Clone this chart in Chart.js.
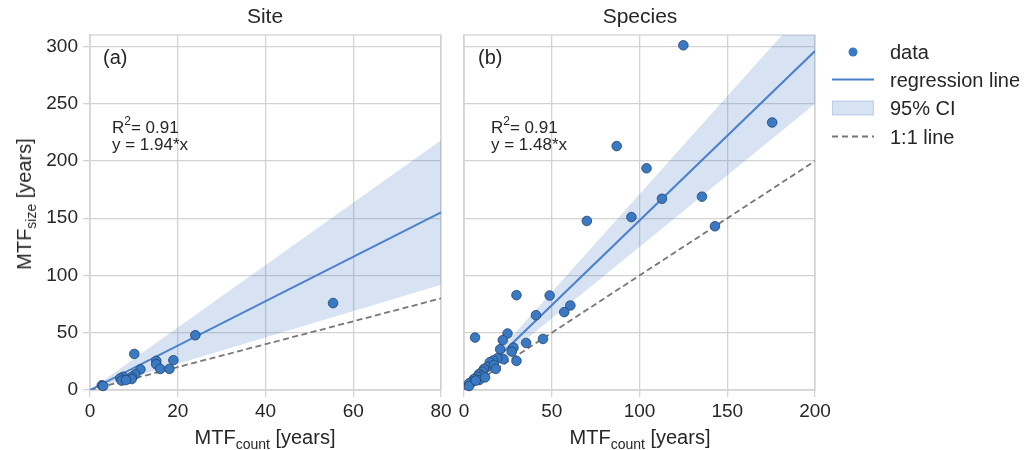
<!DOCTYPE html>
<html>
<head>
<meta charset="utf-8">
<script src="https://cdn.jsdelivr.net/npm/chart.js@4"></script>
<style>
  body { margin: 0; background: #fff; font-family: 'Liberation Sans', Arial, sans-serif; color: #262626; }
  #wrap { position: relative; width: 1034px; height: 450px; overflow: hidden; }
  canvas { position: absolute; top: 0; }
  .txt { position: absolute; white-space: nowrap; line-height: 1; }
  .sub { font-size: 14px; vertical-align: -5px; }
  .sup { font-size: 12px; vertical-align: 8px; }
  .leg { position: absolute; left: 828px; font-size: 20px; }
  .leg div { position: absolute; left: 62px; white-space: nowrap; line-height: 1; }
  .leg svg { position: absolute; left: 0; }
</style>
</head>
<body>
<div id="wrap">
  <canvas id="site" width="460" height="450" style="left:0"></canvas>
  <canvas id="species" width="390" height="450" style="left:450px"></canvas>

  <div class="txt" style="left:265px; top:5px; font-size:21px; transform:translateX(-50%)">Site</div>
  <div class="txt" style="left:640px; top:5px; font-size:21px; transform:translateX(-50%)">Species</div>

  <div class="txt" style="left:103px; top:47px; font-size:20px">(a)</div>
  <div class="txt" style="left:112px; top:115px; font-size:17px">R<span class="sup">2</span>= 0.91</div>
  <div class="txt" style="left:112px; top:136px; font-size:17px">y = 1.94*x</div>

  <div class="txt" style="left:478px; top:47px; font-size:20px">(b)</div>
  <div class="txt" style="left:491px; top:115px; font-size:17px">R<span class="sup">2</span>= 0.91</div>
  <div class="txt" style="left:491px; top:136px; font-size:17px">y = 1.48*x</div>

  <div class="txt" style="left:265px; top:427px; font-size:20px; transform:translateX(-50%)">MTF<span class="sub">count</span> [years]</div>
  <div class="txt" style="left:640px; top:427px; font-size:20px; transform:translateX(-50%)">MTF<span class="sub">count</span> [years]</div>
  <div class="txt" style="left:26px; top:204px; font-size:20px; transform:translate(-50%,-50%) rotate(-90deg)">MTF<span class="sub">size</span> [years]</div>

  <div class="leg" style="top:0">
    <svg width="46" height="150" style="top:0">
      <circle cx="25" cy="52" r="4.5" fill="#3a79c3"/>
      <line x1="4" y1="79.5" x2="46" y2="79.5" stroke="#4a80cc" stroke-width="2"/>
      <rect x="4.5" y="101" width="41" height="14" fill="rgba(74,128,200,0.22)" stroke="rgba(74,128,200,0.3)"/>
      <line x1="4" y1="136.5" x2="46" y2="136.5" stroke="#777" stroke-width="1.8" stroke-dasharray="6,4"/>
    </svg>
    <div style="top:42px">data</div>
    <div style="top:70px">regression line</div>
    <div style="top:98px">95% CI</div>
    <div style="top:127px">1:1 line</div>
  </div>
</div>

<script>
// Site panel (a)
const siteX = [24, 10.1, 15.1, 15.1, 19, 11.5, 16, 18.1, 10.3, 9.5, 9.5, 7.6, 6.9, 7.2, 8.2, 2.7, 3.0, 55.4];
const siteY = [47.8, 31.5, 25.4, 22.5, 26, 18, 18.4, 18.4, 13.7, 11.4, 9.6, 11.6, 10.2, 8.2, 8.7, 4.1, 3.5, 75.9];
const siteFitX = [0, 80];
const siteFitY = [0, 155.2];
const siteCiHigh = [0, 218];
const siteCiLow = [0, 92];
const siteOneX = [0, 80];
const siteOneY = [0, 80];
const siteTicksX = [0, 20, 40, 60, 80];

// Species panel (b)
const speciesX = [125, 175.6, 87, 104, 112.8, 135.6, 95.4, 70, 143,
  29.9, 48.8, 60.6, 57.1, 41, 6.3, 24.8, 22.1, 35.4, 45, 20.6, 28.2, 27.2, 29.9,
  22.5, 19, 16.6, 14.7, 13.5, 17.1, 18.1, 11.4, 10.5, 8.6, 10.1, 7.6, 5.7, 8.6,
  4.8, 2.9, 2.9, 12, 6.7];
const speciesY = [301, 233.6, 213, 193.6, 167, 168.8, 151, 147.6, 143,
  82.8, 82.5, 73.8, 68, 65.3, 45.8, 49.3, 43.5, 41.1, 44.6, 35.6, 37, 33.5, 25.4,
  26.8, 27.7, 25.7, 24.2, 20.4, 21.9, 18.4, 18.4, 16, 14, 12.2, 11.6, 9.6, 8.7,
  7.3, 5.8, 3.5, 11, 8.2];
const speciesFitX = [0, 200];
const speciesFitY = [0, 296];
const speciesCiHigh = [0, 342];
const speciesCiLow = [0, 250];
const speciesOneX = [0, 200];
const speciesOneY = [0, 200];
const speciesTicksX = [0, 50, 100, 150, 200];

const yTicks = [0, 50, 100, 150, 200, 250, 300];
const yMax = 310;

const gridColor = '#d3d3d3';
const pointFill = '#3a79c3';
const pointEdge = '#23426a';
const lineBlue = '#4a80cc';
const ciFill = 'rgba(74,128,200,0.22)';

const pts = (xs, ys) => xs.map((x, i) => ({ x: x, y: ys[i] }));

// frame around the plot area (matplotlib spines)
const framePlugin = {
  id: 'frame',
  beforeDatasetsDraw(chart) {
    const a = chart.chartArea;
    const ctx = chart.ctx;
    ctx.save();
    ctx.strokeStyle = gridColor;
    ctx.lineWidth = 1.3;
    ctx.strokeRect(a.left, a.top, a.right - a.left, a.bottom - a.top);
    ctx.restore();
  }
};

function makePanel(el, d, showY, pad) {
  return new Chart(el, {
    type: 'scatter',
    data: {
      datasets: [
        {
          label: 'data',
          data: pts(d.x, d.y),
          backgroundColor: pointFill,
          borderColor: pointEdge,
          borderWidth: 0.8,
          pointRadius: 4.8,
          clip: 6
        },
        {
          label: 'regression line',
          type: 'line',
          data: pts(d.fitX, d.fitY),
          borderColor: lineBlue,
          borderWidth: 2,
          pointRadius: 0
        },
        {
          label: '1:1 line',
          type: 'line',
          data: pts(d.oneX, d.oneY),
          borderColor: '#777777',
          borderWidth: 1.8,
          borderDash: [6, 3.5],
          pointRadius: 0
        },
        {
          label: 'ci high',
          type: 'line',
          data: pts(d.fitX, d.ciHigh),
          borderWidth: 0,
          pointRadius: 0,
          backgroundColor: ciFill,
          fill: '+1'
        },
        {
          label: '95% CI',
          type: 'line',
          data: pts(d.fitX, d.ciLow),
          borderWidth: 0,
          pointRadius: 0,
          fill: false
        }
      ]
    },
    options: {
      responsive: false,
      animation: false,
      events: [],
      layout: { padding: pad },
      plugins: {
        legend: { display: false },
        tooltip: { enabled: false }
      },
      scales: {
        x: {
          type: 'linear',
          min: 0,
          max: d.ticksX[d.ticksX.length - 1],
          afterBuildTicks: s => { s.ticks = d.ticksX.map(v => ({ value: v })); },
          afterFit: s => { s.height = 60; },
          grid: { color: gridColor, lineWidth: 1.3, tickLength: 7 },
          border: { color: gridColor, width: 1.3 },
          ticks: { color: '#262626', padding: 3, font: { size: 19, family: "'Liberation Sans', Arial, sans-serif" } }
        },
        y: {
          min: 0,
          max: yMax,
          afterBuildTicks: s => { s.ticks = yTicks.map(v => ({ value: v })); },
          afterFit: s => { s.width = showY ? 90 : 0; },
          grid: { color: gridColor, lineWidth: 1.3, tickLength: 7, drawTicks: showY },
          border: { color: gridColor, width: 1.3 },
          ticks: {
            display: showY,
            color: '#262626',
            padding: 5,
            font: { size: 19, family: "'Liberation Sans', Arial, sans-serif" }
          }
        }
      }
    },
    plugins: [framePlugin]
  });
}

makePanel(document.getElementById('site'), {
  x: siteX, y: siteY, fitX: siteFitX, fitY: siteFitY,
  ciHigh: siteCiHigh, ciLow: siteCiLow, oneX: siteOneX, oneY: siteOneY, ticksX: siteTicksX
}, true, { left: 0, right: 19, top: 35, bottom: 0 });

makePanel(document.getElementById('species'), {
  x: speciesX, y: speciesY, fitX: speciesFitX, fitY: speciesFitY,
  ciHigh: speciesCiHigh, ciLow: speciesCiLow, oneX: speciesOneX, oneY: speciesOneY, ticksX: speciesTicksX
}, false, { left: 14, right: 25, top: 35, bottom: 0 });
</script>
</body>
</html>
